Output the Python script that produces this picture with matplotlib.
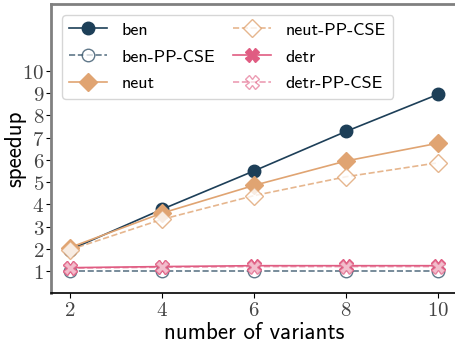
import matplotlib
matplotlib.use("Agg")
import matplotlib.pyplot as plt

plt.rcParams['mathtext.fontset'] = 'cm'
plt.rcParams['axes.unicode_minus'] = False

variants = [2, 4, 6, 8, 10]

ben = [1.95, 3.77, 5.5, 7.28, 8.95]
ben_pp = [1.0, 1.0, 1.0, 1.0, 1.0]
neut = [2.05, 3.6, 4.85, 5.95, 6.75]
neut_pp = [1.95, 3.32, 4.39, 5.24, 5.87]
detr = [1.15, 1.2, 1.24, 1.24, 1.24]
detr_pp = [1.13, 1.17, 1.2, 1.2, 1.2]

yticks = [1, 2, 3, 4, 5, 6, 7, 8, 9, 10]

c_ben = '#1d3f58'
c_neut = '#e0a472'
c_detr = '#e05c82'

sans = 'cmss10'

fig = plt.figure(figsize=(4.56, 3.43), dpi=100)
ax = fig.add_axes([0.112, 0.145, 0.89, 0.843])

ax.plot(variants, ben, '-o', color=c_ben, lw=1.2, ms=9, label='ben')
ax.plot(variants, ben_pp, '--o', color=c_ben, lw=1.2, ms=9, alpha=0.7,
        mfc='white', label='ben-PP-CSE')
ax.plot(variants, neut, '-D', color=c_neut, lw=1.2, ms=9, label='neut')
ax.plot(variants, neut_pp, '--D', color=c_neut, lw=1.2, ms=9, alpha=0.8,
        mfc='white', label='neut-PP-CSE')
ax.plot(variants, detr, '-X', color=c_detr, lw=1.2, ms=10, label='detr')
ax.plot(variants, detr_pp, '--X', color=c_detr, lw=1.2, ms=10, alpha=0.6,
        mfc='white', label='detr-PP-CSE')

ax.set_xlim(1.6, 10.4)
ax.set_ylim(0, 13)
ax.set_xticks(variants)
ax.set_xticklabels(['$%d$' % v for v in variants], fontsize=15, color='#444444')
ax.set_yticks(yticks)
ax.set_yticklabels(['$%d$' % v for v in yticks], fontsize=15, color='#444444')
ax.tick_params(axis='both', length=3.5, pad=1.5)

ax.set_xlabel('number of variants', fontsize=16.5, family=sans, labelpad=1)
ax.set_ylabel('speedup', fontsize=16.5, family=sans, labelpad=-3)

for s in ['left', 'top']:
    ax.spines[s].set_color('#808080')
    ax.spines[s].set_linewidth(2)
ax.spines['right'].set_visible(False)
ax.spines['bottom'].set_linewidth(1.2)

ax.legend(ncol=2, loc='upper left', prop={'family': sans, 'size': 13},
          handlelength=2.1, labelspacing=0.62, columnspacing=1.0,
          borderaxespad=0.6)

fig.savefig('out.png', dpi=100)
